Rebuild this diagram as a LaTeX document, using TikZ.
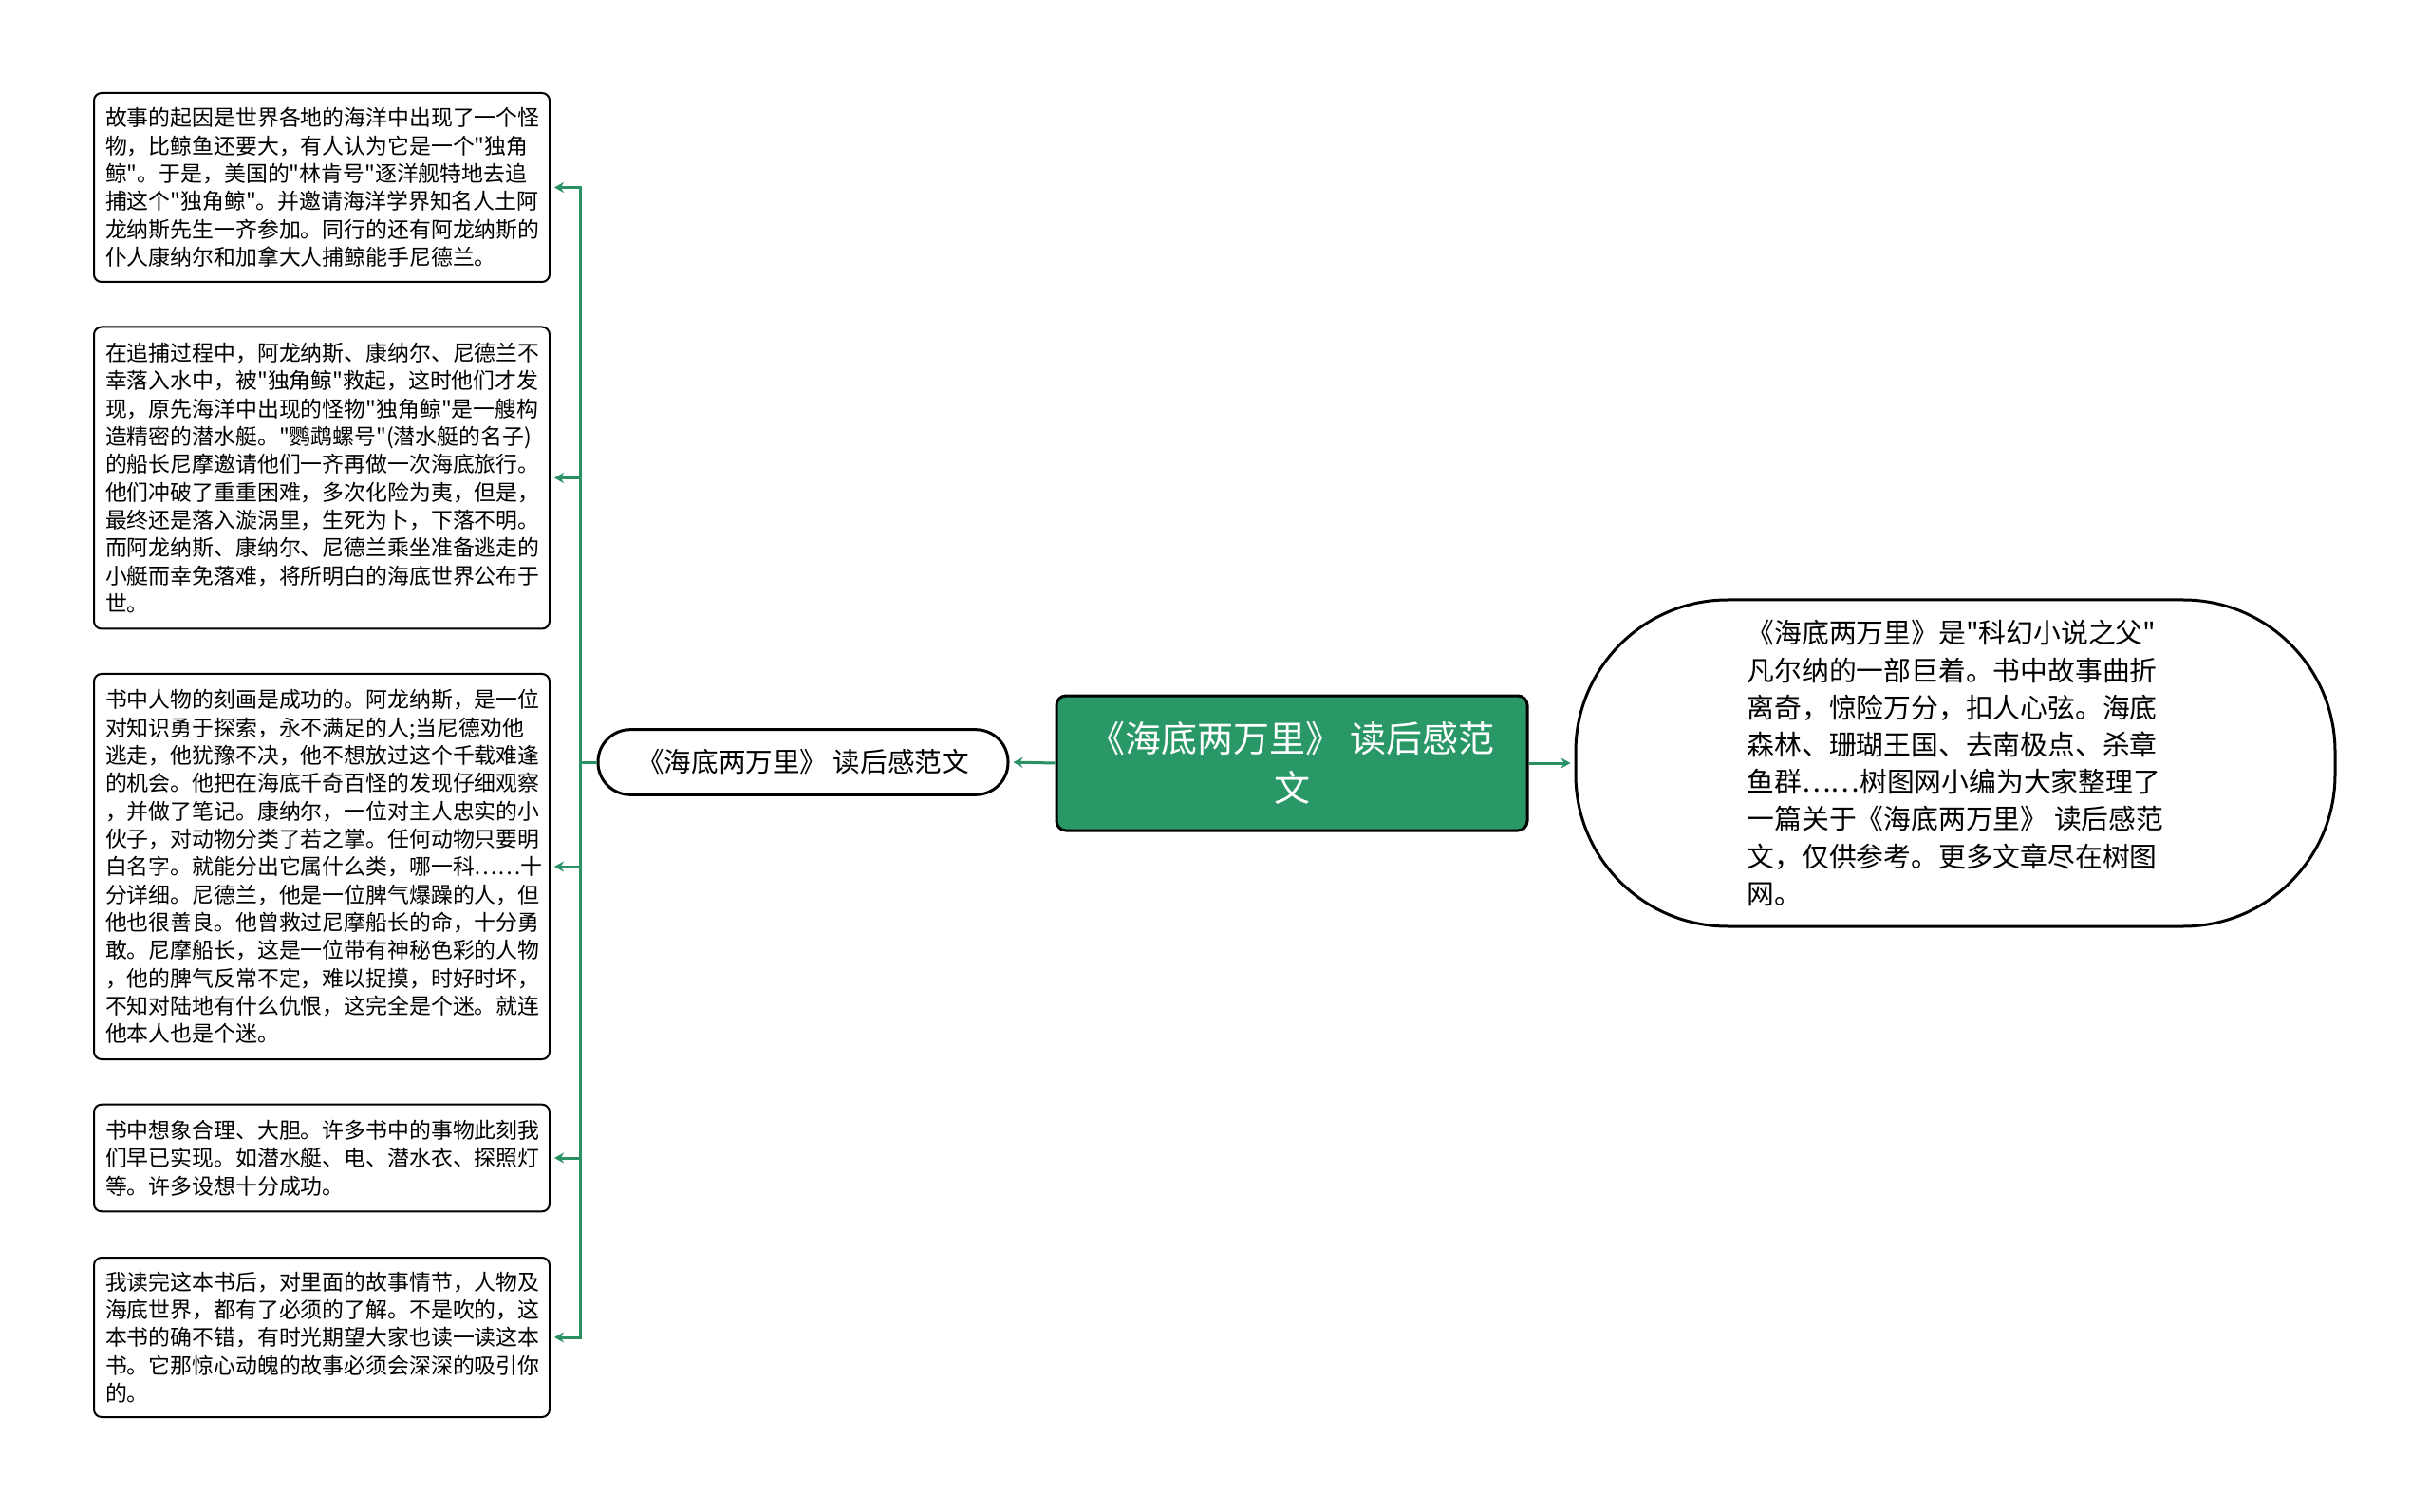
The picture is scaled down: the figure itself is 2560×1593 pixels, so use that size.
\documentclass[tikz,border=0pt]{standalone}
\usepackage{fontspec}
\setmainfont{Noto Sans CJK SC}[Ligatures=TeXOff]
\usepackage{tikz}
\usetikzlibrary{arrows.meta}
\definecolor{mapgreen}{RGB}{42,152,102}
\definecolor{linkgreen}{RGB}{42,145,100}

\begin{document}
\begin{tikzpicture}[x=0.5pt,y=0.5pt,yscale=-1,xscale=1,
  leafbox/.style={draw=black, line width=1pt, rounded corners=4pt, fill=white, anchor=west,
    text width=228pt, align=left, inner xsep=6pt, inner ysep=0pt, minimum width=240pt,
    font=\fontsize{11.44pt}{14.67pt}\selectfont},
  rootbox/.style={draw=black, line width=1.5pt, rounded corners=5pt, fill=mapgreen, text=white,
    minimum width=248pt, minimum height=71pt, align=center,
    font=\fontsize{19pt}{26pt}\selectfont},
  midbox/.style={draw=black, line width=1.5pt, rounded corners=17pt, fill=white,
    minimum width=216pt, minimum height=34.3pt, font=\fontsize{14.3pt}{18pt}\selectfont},
  introbox/.style={draw=black, line width=1.5pt, rounded corners=80pt, fill=white,
    minimum width=400pt, minimum height=172pt, align=left,
    font=\fontsize{14.4pt}{19.6pt}\selectfont},
  link/.style={draw=linkgreen, line width=1.5pt, -{Stealth[length=5pt,width=5.5pt]}, shorten >=2pt},
  linkplain/.style={draw=linkgreen, line width=1.5pt}]
\useasboundingbox (0,0) rectangle (2560,1593);

% Root Node
\node[rootbox] (root) at (1361,804) {《海底两万里》 读后感范\\文};
% Title Node
\node[midbox] (title) at (846,803) {《海底两万里》 读后感范文};
% Intro Node
\node[introbox] (intro) at (2060,804) {《海底两万里》是"科幻小说之父"\\
凡尔纳的一部巨着。书中故事曲折\\
离奇，惊险万分，扣人心弦。海底\\
森林、珊瑚王国、去南极点、杀章\\
鱼群……树图网小编为大家整理了\\
一篇关于《海底两万里》 读后感范\\
文，仅供参考。更多文章尽在树图\\
网。};

% Leaf Nodes
\node[leafbox, minimum height=99.5pt] (story) at (98,197.5) {故事的起因是世界各地的海洋中出现了一个怪\\
物，比鲸鱼还要大，有人认为它是一个"独角\\
鲸"。于是，美国的"林肯号"逐洋舰特地去追\\
捕这个"独角鲸"。并邀请海洋学界知名人土阿\\
龙纳斯先生一齐参加。同行的还有阿龙纳斯的\\
仆人康纳尔和加拿大人捕鲸能手尼德兰。};
\node[leafbox, minimum height=159pt] (rescue) at (98,503.5) {在追捕过程中，阿龙纳斯、康纳尔、尼德兰不\\
幸落入水中，被"独角鲸"救起，这时他们才发\\
现，原先海洋中出现的怪物"独角鲸"是一艘构\\
造精密的潜水艇。"鹦鹉螺号"(潜水艇的名子)\\
的船长尼摩邀请他们一齐再做一次海底旅行。\\
他们冲破了重重困难，多次化险为夷，但是，\\
最终还是落入漩涡里，生死为卜，下落不明。\\
而阿龙纳斯、康纳尔、尼德兰乘坐准备逃走的\\
小艇而幸免落难，将所明白的海底世界公布于\\
世。};
\node[leafbox, minimum height=203pt] (roles) at (98,913) {书中人物的刻画是成功的。阿龙纳斯，是一位\\
对知识勇于探索，永不满足的人;当尼德劝他\\
逃走，他犹豫不决，他不想放过这个千载难逢\\
的机会。他把在海底千奇百怪的发现仔细观察\\
，并做了笔记。康纳尔，一位对主人忠实的小\\
伙子，对动物分类了若之掌。任何动物只要明\\
白名字。就能分出它属什么类，哪一科……十\\
分详细。尼德兰，他是一位脾气爆躁的人，但\\
他也很善良。他曾救过尼摩船长的命，十分勇\\
敢。尼摩船长，这是一位带有神秘色彩的人物\\
，他的脾气反常不定，难以捉摸，时好时坏，\\
不知对陆地有什么仇恨，这完全是个迷。就连\\
他本人也是个迷。};
\node[leafbox, minimum height=56.3pt] (ideas) at (98,1220) {书中想象合理、大胆。许多书中的事物此刻我\\
们早已实现。如潜水艇、电、潜水衣、探照灯\\
等。许多设想十分成功。};
\node[leafbox, minimum height=84pt] (feel) at (98,1409) {我读完这本书后，对里面的故事情节，人物及\\
海底世界，都有了必须的了解。不是吹的，这\\
本书的确不错，有时光期望大家也读一读这本\\
书。它那惊心动魄的故事必须会深深的吸引你\\
的。};

% Connectors
\draw[link] (root.west) -- (title.east);
\draw[link] (root.east) -- (intro.west);
\coordinate (trunk) at (611,803);
\draw[linkplain] (title.west) -- (trunk);
\foreach \leaf in {story,rescue,roles,ideas,feel}
  \draw[link] (trunk) |- (\leaf.east);
\end{tikzpicture}
\end{document}
